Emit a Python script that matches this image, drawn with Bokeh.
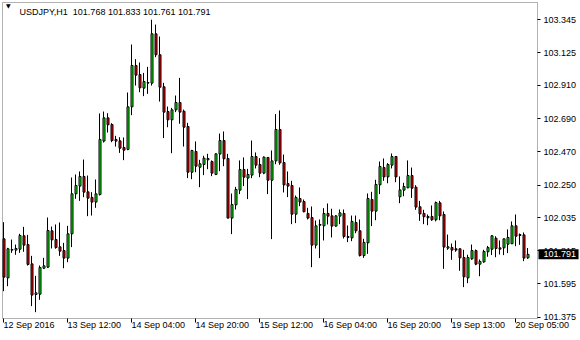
from bokeh.plotting import figure
from bokeh.models import (Range1d, FixedTicker, PrintfTickFormatter, Label, ColumnDataSource,
                          BoxAnnotation)
from bokeh.transform import dodge
from bokeh.embed import file_html
from bokeh.resources import INLINE

# USDJPY H1 bars (index 0 = 12 Sep 2016 20:00 ... 131 = 20 Sep 08:00)
opens = [101.894, 101.635, 101.819, 101.819, 101.825, 101.914, 101.856, 101.728, 101.525, 101.527,
         101.699, 101.706, 101.947, 101.889, 101.841, 101.816, 101.766, 101.927, 102.192, 102.243,
         102.307, 102.205, 102.168, 102.137, 102.187, 102.541, 102.695, 102.651, 102.552, 102.543,
         102.499, 102.486, 102.768, 103.042, 102.982, 102.892, 102.925, 102.925, 103.252, 103.113,
         102.901, 102.737, 102.682, 102.748, 102.797, 102.739, 102.638, 102.335, 102.472, 102.368,
         102.386, 102.417, 102.406, 102.320, 102.455, 102.545, 102.426, 102.031, 102.119, 102.216,
         102.353, 102.296, 102.316, 102.439, 102.386, 102.329, 102.433, 102.282, 102.410, 102.618,
         102.399, 102.260, 102.247, 102.057, 102.161, 102.141, 102.062, 102.035, 101.852, 101.984,
         101.980, 102.062, 102.046, 101.978, 102.044, 102.062, 101.903, 101.900, 102.002, 101.947,
         101.783, 101.867, 102.154, 102.077, 102.251, 102.366, 102.304, 102.382, 102.439, 102.172,
         102.216, 102.232, 102.313, 102.236, 102.106, 102.062, 102.042, 102.042, 102.020, 102.132,
         102.055, 101.832, 101.836, 101.828, 101.828, 101.770, 101.635, 101.761, 101.816, 101.726,
         101.741, 101.808, 101.825, 101.898, 101.834, 101.834, 101.858, 101.861, 101.980, 101.922,
         101.920, 101.768]
highs = [102.004, 101.834, 101.889, 101.856, 101.927, 101.973, 101.920, 101.781, 101.649, 101.717,
         101.768, 102.035, 101.975, 101.989, 102.002, 101.867, 101.980, 102.300, 102.320, 102.340,
         102.419, 102.313, 102.203, 102.287, 102.724, 102.737, 102.726, 102.660, 102.576, 102.567,
         102.565, 102.863, 103.181, 103.084, 103.062, 102.993, 103.033, 103.345, 103.313, 103.234,
         102.927, 102.770, 102.761, 102.843, 102.960, 102.750, 102.662, 102.483, 102.539, 102.417,
         102.444, 102.457, 102.413, 102.459, 102.591, 102.605, 102.457, 102.194, 102.238, 102.413,
         102.433, 102.357, 102.545, 102.466, 102.428, 102.439, 102.433, 102.479, 102.720, 102.744,
         102.452, 102.340, 102.278, 102.181, 102.234, 102.154, 102.099, 102.108, 102.015, 102.022,
         102.097, 102.128, 102.093, 102.050, 102.088, 102.088, 101.982, 102.048, 102.048, 102.022,
         101.894, 102.194, 102.205, 102.285, 102.406, 102.426, 102.395, 102.459, 102.439, 102.307,
         102.265, 102.413, 102.366, 102.249, 102.145, 102.086, 102.055, 102.115, 102.141, 102.145,
         102.075, 101.922, 101.863, 101.883, 101.828, 101.821, 101.788, 101.856, 101.823, 101.757,
         101.821, 101.847, 101.918, 101.911, 101.883, 101.894, 101.956, 102.009, 102.055, 101.929,
         101.936, 101.833]
lows = [101.547, 101.580, 101.801, 101.788, 101.801, 101.808, 101.717, 101.448, 101.408, 101.490,
        101.695, 101.702, 101.830, 101.828, 101.781, 101.699, 101.739, 101.839, 102.159, 102.145,
        102.170, 102.044, 102.048, 102.099, 102.181, 102.532, 102.598, 102.534, 102.505, 102.463,
        102.415, 102.481, 102.713, 102.909, 102.865, 102.839, 102.854, 102.909, 103.097, 102.803,
        102.561, 102.633, 102.461, 102.733, 102.656, 102.505, 102.296, 102.289, 102.335, 102.236,
        102.316, 102.355, 102.309, 102.316, 102.342, 102.375, 102.031, 101.925, 102.088, 102.190,
        102.243, 102.157, 102.296, 102.360, 102.302, 102.322, 102.190, 101.892, 102.388, 102.384,
        102.201, 102.170, 101.991, 101.998, 102.110, 102.070, 102.022, 101.706, 101.830, 101.766,
        101.883, 101.989, 101.903, 101.975, 101.991, 101.896, 101.872, 101.878, 101.931, 101.777,
        101.768, 101.794, 101.978, 102.017, 102.190, 102.278, 102.262, 102.360, 102.269, 102.130,
        102.176, 102.229, 102.165, 102.086, 102.013, 101.991, 101.984, 102.013, 102.009, 102.017,
        101.695, 101.821, 101.755, 101.808, 101.682, 101.574, 101.600, 101.755, 101.719, 101.646,
        101.735, 101.775, 101.786, 101.772, 101.790, 101.786, 101.799, 101.861, 101.845, 101.854,
        101.746, 101.761]
closes = [101.640, 101.828, 101.823, 101.830, 101.916, 101.852, 101.724, 101.521, 101.536, 101.704,
          101.715, 101.949, 101.887, 101.836, 101.812, 101.766, 101.927, 102.192, 102.247, 102.307,
          102.203, 102.163, 102.137, 102.192, 102.552, 102.695, 102.649, 102.545, 102.541, 102.494,
          102.481, 102.768, 103.042, 102.978, 102.894, 102.936, 102.929, 103.252, 103.113, 102.898,
          102.733, 102.682, 102.748, 102.797, 102.733, 102.633, 102.335, 102.479, 102.375, 102.391,
          102.428, 102.426, 102.329, 102.457, 102.545, 102.424, 102.031, 102.121, 102.221, 102.353,
          102.302, 102.320, 102.439, 102.382, 102.329, 102.435, 102.282, 102.410, 102.618, 102.397,
          102.251, 102.243, 102.057, 102.168, 102.137, 102.073, 102.031, 101.852, 101.980, 101.989,
          102.062, 102.044, 101.978, 102.046, 102.066, 101.909, 101.909, 102.009, 101.947, 101.783,
          101.870, 102.161, 102.077, 102.254, 102.373, 102.304, 102.386, 102.439, 102.304, 102.218,
          102.240, 102.313, 102.229, 102.104, 102.059, 102.040, 102.033, 102.020, 102.134, 102.046,
          101.839, 101.841, 101.819, 101.819, 101.768, 101.642, 101.770, 101.816, 101.726, 101.744,
          101.810, 101.836, 101.914, 101.830, 101.825, 101.894, 101.903, 101.980, 101.911, 101.916,
          101.766, 101.791]

time_tick_index = [0, 16, 32, 48, 64, 80, 96, 112, 128]
time_tick_labels = ["12 Sep 2016", "13 Sep 12:00", "14 Sep 04:00", "14 Sep 20:00", "15 Sep 12:00",
                    "16 Sep 04:00", "16 Sep 20:00", "19 Sep 13:00", "20 Sep 05:00"]
price_ticks = [101.375, 101.595, 101.815, 102.035, 102.250, 102.470, 102.690, 102.910, 103.125, 103.345]

symbol = "USDJPY,H1"
last_price = closes[-1]

FONT = "Liberation Sans"
BULL = "#00FA00"
BEAR = "#F50000"

n = len(opens)
idx = list(range(n))
src = ColumnDataSource(dict(
    x=idx, open=opens, high=highs, low=lows, close=closes,
    top=[max(o, c) for o, c in zip(opens, closes)],
    bottom=[min(o, c) for o, c in zip(opens, closes)],
    color=[BULL if c >= o else BEAR for o, c in zip(opens, closes)],
))

# The frame covers the whole 580x340 canvas; the price pane and scales are drawn inside it.
W, H = 580, 340
x_start, x_end = -0.75, 144.25            # 4 px per bar
y_start, y_end = 101.22032, 103.47248
ux = (x_end - x_start) / W
uy = (y_end - y_start) / H


def px_x(px):
    return x_start + px * ux


def px_y(py):
    return y_end - py * uy


PANE_L, PANE_T, PANE_R, PANE_B = 2, 2, 537, 318   # pane border

p = figure(width=W, height=H, output_backend="svg", toolbar_location=None,
           x_range=Range1d(x_start, x_end), y_range=Range1d(y_start, y_end),
           x_axis_location="below", y_axis_location="right",
           min_border=0, min_border_left=0, min_border_right=0,
           min_border_top=0, min_border_bottom=0)
p.background_fill_color = "white"
p.border_fill_color = "white"
p.outline_line_color = None
p.xgrid.visible = False
p.ygrid.visible = False

# chart pane border
p.add_layout(BoxAnnotation(left=px_x(PANE_L), right=px_x(PANE_R), top=px_y(PANE_T), bottom=px_y(PANE_B),
                           fill_alpha=0, line_color="black", line_width=1, level="underlay"))

xa = p.xaxis[0]
xa.fixed_location = px_y(PANE_B)
xa.ticker = FixedTicker(ticks=time_tick_index)
xa.major_label_overrides = {i: s for i, s in zip(time_tick_index, time_tick_labels)}
xa.major_label_orientation = -0.0001
xa.major_tick_in = 0
xa.major_tick_out = 4
xa.minor_tick_line_color = None
xa.axis_line_color = None
xa.major_tick_line_color = "black"
xa.major_label_text_font = FONT
xa.major_label_text_font_size = "9px"
xa.major_label_text_color = "black"
xa.major_label_standoff = 2

ya = p.yaxis[0]
ya.fixed_location = px_x(PANE_R)
ya.ticker = FixedTicker(ticks=price_ticks)
ya.formatter = PrintfTickFormatter(format="%.3f")
ya.major_tick_in = 0
ya.major_tick_out = 3
ya.minor_tick_line_color = None
ya.axis_line_color = None
ya.major_tick_line_color = "black"
ya.major_label_text_font = FONT
ya.major_label_text_font_size = "9px"
ya.major_label_text_color = "black"
ya.major_label_standoff = 3

p.segment(x0="x", y0="low", x1="x", y1="high", source=src, line_color="black", line_width=1)
# bodies nudged half a pixel so their 1px outline and 1px fill land on whole pixels
p.vbar(x=dodge("x", 0.5 * ux, range=p.x_range), width=2 * ux, top="top", bottom="bottom", source=src,
       fill_color="color", line_color="black", line_width=1)

# header text
p.add_layout(Label(x=px_x(7.9), y=px_y(5.4), text="\u25bc",
                   text_font="DejaVu Sans", text_font_size="6px",
                   text_align="center", text_baseline="middle", text_color="black"))
p.add_layout(Label(x=px_x(19), y=px_y(11.5),
                   text=symbol + "\u00a0\u00a0" + " ".join(f"{v:.3f}" for v in (opens[-1], highs[-1], lows[-1], closes[-1])),
                   text_font=FONT, text_font_size="9px", text_align="left",
                   text_baseline="alphabetic", text_color="black"))

# current price tag on the price scale
p.add_layout(Label(x=px_x(538), y=last_price,
                   text="\u00a0\u00a0" + f"{last_price:.3f}" + "\u00a0",
                   text_font=FONT, text_font_size="9px", text_align="left",
                   text_baseline="middle", text_color="white",
                   background_fill_color="black"))

open("out.html", "w").write(file_html(p, INLINE))
